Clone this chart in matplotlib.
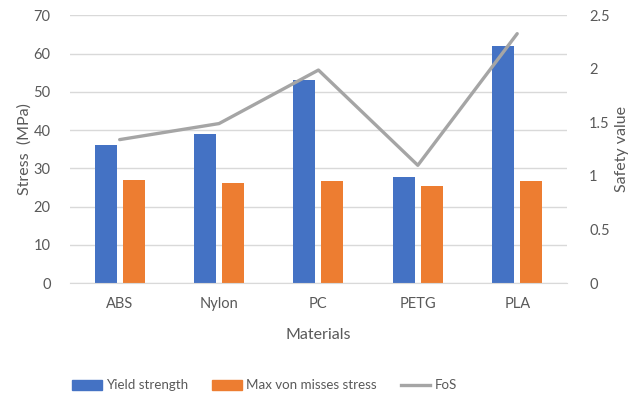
import matplotlib
matplotlib.use("Agg")
import matplotlib.pyplot as plt
import numpy as np
from matplotlib.lines import Line2D
from matplotlib.patches import Patch

materials = ["ABS", "Nylon", "PC", "PETG", "PLA"]
yield_strength = [36, 39, 53, 27.8, 62]
max_von_misses = [26.9, 26.2, 26.7, 25.5, 26.7]
fos = [1.34, 1.49, 1.99, 1.10, 2.33]

left_ticks = [0, 10, 20, 30, 40, 50, 60, 70]
right_ticks = [0, 0.5, 1, 1.5, 2, 2.5]
right_tick_labels = ["0", "0.5", "1", "1.5", "2", "2.5"]

BLUE = "#4472c4"
ORANGE = "#ed7d31"
GRAY = "#a5a5a5"
TEXT = "#595959"
GRID = "#d9d9d9"

plt.rcParams["font.family"] = ["Lato", "DejaVu Sans"]

fig = plt.figure(figsize=(6.42, 3.94), dpi=100)
ax = fig.add_axes([0.109, 0.2817, 0.774, 0.679])
ax2 = ax.twinx()

x = np.arange(len(materials))
w = 0.222
off = 0.141
ax.bar(x - off, yield_strength, w, color=BLUE, zorder=2)
ax.bar(x + off, max_von_misses, w, color=ORANGE, zorder=2)
ax2.plot(x, fos, color=GRAY, lw=2.4, solid_capstyle="round", zorder=3)

ax.set_xlim(-0.5, len(materials) - 0.5)
ax.set_ylim(0, 70)
ax2.set_ylim(0, 2.5)
ax.set_yticks(left_ticks)
ax2.set_yticks(right_ticks)
ax2.set_yticklabels(right_tick_labels)
ax.set_xticks(x)
ax.set_xticklabels(materials)

ax.yaxis.grid(True, color=GRID, lw=1.0, zorder=0)
ax.set_axisbelow(True)
for a in (ax, ax2):
    for s in a.spines.values():
        s.set_visible(False)
    a.tick_params(length=0, colors=TEXT, labelsize=10.5)
ax.spines["bottom"].set_visible(True)
ax.spines["bottom"].set_color(GRID)
ax.tick_params(axis="y", pad=14)
ax2.tick_params(axis="y", pad=16)
ax.tick_params(axis="x", pad=10)

ax.set_ylabel("Stress  (MPa)", color=TEXT, fontsize=11.5, labelpad=1)
ax2.set_ylabel("Safety value", color=TEXT, fontsize=11.5, labelpad=4)
ax.set_xlabel("Materials", color=TEXT, fontsize=11.5, labelpad=12)

handles = [Patch(color=BLUE), Patch(color=ORANGE),
           Line2D([0], [0], color=GRAY, lw=2.4)]
labels = ["Yield strength", "Max von misses stress", "FoS"]
fig.legend(handles, labels, loc="center", bbox_to_anchor=(0.412, 0.022),
           ncol=3, frameon=False, fontsize=9.6, labelcolor=TEXT,
           handlelength=2.2, handleheight=0.75, handletextpad=0.3,
           columnspacing=1.85)

fig.savefig("out.png", dpi=100)
